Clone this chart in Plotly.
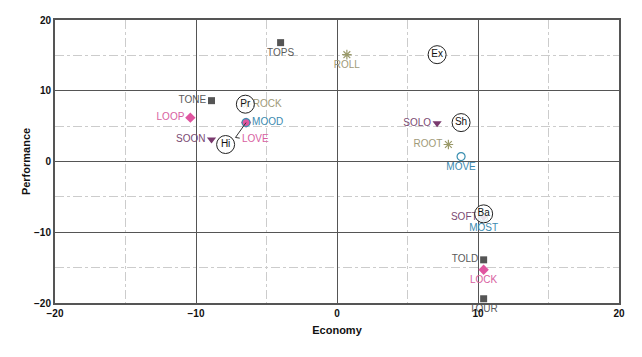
import plotly.graph_objects as go

# Series data
sq_labels = ["TOPS", "TONE", "TOLD", "TOUR"]
sq_x = [-4.0, -8.9, 10.4, 10.4]
sq_y = [16.8, 8.6, -13.9, -19.4]
sq_pos = ["bottom center", "middle left", "middle left", "bottom center"]

dm_labels = ["LOOP", "LOVE", "LOCK"]
dm_x = [-10.4, -6.45, 10.4]
dm_y = [6.2, 5.5, -15.3]
dm_pos = ["middle left", None, "bottom center"]

tr_labels = ["SOON", "SOLO", "SOFT"]
tr_x = [-8.9, 7.1, 10.4]
tr_y = [3.1, 5.4, -7.9]
tr_pos = ["middle left", "middle left", "middle left"]

as_labels = ["ROLL", "ROCK", "ROOT"]
as_x = [0.7, -6.4, 7.9]
as_y = [15.1, 8.1, 2.4]
as_pos = ["bottom center", "middle right", "middle left"]

ci_labels = ["MOOD", "MOVE", "MOST"]
ci_x = [-6.45, 8.8, 10.4]
ci_y = [5.5, 0.7, -7.9]
ci_pos = ["middle right", "bottom center", "bottom center"]

bub_labels = ["Ex", "Pr", "Hi", "Sh", "Ba"]
bub_x = [7.1, -6.5, -7.9, 8.8, 10.4]
bub_y = [15.1, 8.1, 2.4, 5.5, -7.4]

x_ticks = [-20, -10, 0, 10, 20]
y_ticks = [-20, -10, 0, 10, 20]

FONT = "Liberation Sans, Arial, sans-serif"
fig = go.Figure()

def add_series(labels, xs, ys, pos, symbol, mcolor, tcolor, size, line=None):
    txt = [l if p else "" for l, p in zip(labels, pos)]
    tp = [p if p else "middle right" for p in pos]
    fig.add_trace(go.Scatter(
        x=xs, y=ys, mode="markers+text", text=txt, textposition=tp,
        textfont=dict(family=FONT, size=10, color=tcolor),
        marker=dict(symbol=symbol, size=size, color=mcolor,
                    line=line if line else dict(width=0)),
        cliponaxis=False, showlegend=False, hoverinfo="skip"))

add_series(sq_labels, sq_x, sq_y, sq_pos, "square", "#555555", "#5a5a5a", 7)
add_series(dm_labels, dm_x, dm_y, dm_pos, "diamond", "#e055a0", "#d8609f", 8)
add_series(tr_labels, tr_x, tr_y, tr_pos, "triangle-down", "#7a3a6e", "#7a4a72", 8)
add_series(as_labels, as_x, as_y, as_pos, "asterisk-open", "#9a9a6a", "#a09a78", 8,
           line=dict(width=1.2, color="#9a9a6a"))
add_series(ci_labels, ci_x, ci_y, ci_pos, "circle-open", "#3a8fb0", "#3a8ab0", 8,
           line=dict(width=1.2, color="#3a8fb0"))

# LOVE label with leader line (offset from its marker)
lx, ly = dm_x[1], dm_y[1]
fig.add_trace(go.Scatter(
    x=[lx, lx - 0.75, lx - 0.45], y=[ly, ly - 2.1, ly - 2.2], mode="lines",
    line=dict(color="#333333", width=1), showlegend=False, hoverinfo="skip"))
fig.add_annotation(x=lx - 0.4, y=ly - 2.3, text=dm_labels[1], showarrow=False,
                   font=dict(family=FONT, size=10, color="#d8609f"),
                   xanchor="left", yanchor="middle")

# bubble labels
fig.add_trace(go.Scatter(
    x=bub_x, y=bub_y, mode="markers+text", text=bub_labels, textposition="middle center",
    textfont=dict(family=FONT, size=10, color="#111111"),
    marker=dict(symbol="circle", size=18, color="rgba(255,255,255,0.85)",
                line=dict(width=1, color="#222222")),
    showlegend=False, hoverinfo="skip"))

axis_common = dict(
    range=[-20, 20], tickvals=x_ticks, showgrid=True, gridcolor="#555555", gridwidth=1,
    zeroline=False, showline=True, mirror=True, linecolor="#555555", linewidth=2,
    ticks="", automargin=False,
    tickfont=dict(family=FONT, size=10, color="#111111", weight="bold"),
    minor=dict(dtick=5, showgrid=True, gridcolor="#cccccc", griddash="dashdot", gridwidth=1),
)

fig.update_layout(
    width=642, height=357,
    margin=dict(l=55, r=23, t=20, b=54),
    paper_bgcolor="white", plot_bgcolor="white",
    xaxis=dict(**axis_common, title=dict(text="Economy", standoff=8,
               font=dict(family=FONT, size=11, color="#111111", weight="bold"))),
    yaxis=dict(**{**axis_common, "tickvals": y_ticks},
               title=dict(text="Performance", standoff=1,
               font=dict(family=FONT, size=11, color="#111111", weight="bold"))),
)

fig.write_html("out.html", config={"displayModeBar": False},
               post_script="document.body.style.margin='0';")
